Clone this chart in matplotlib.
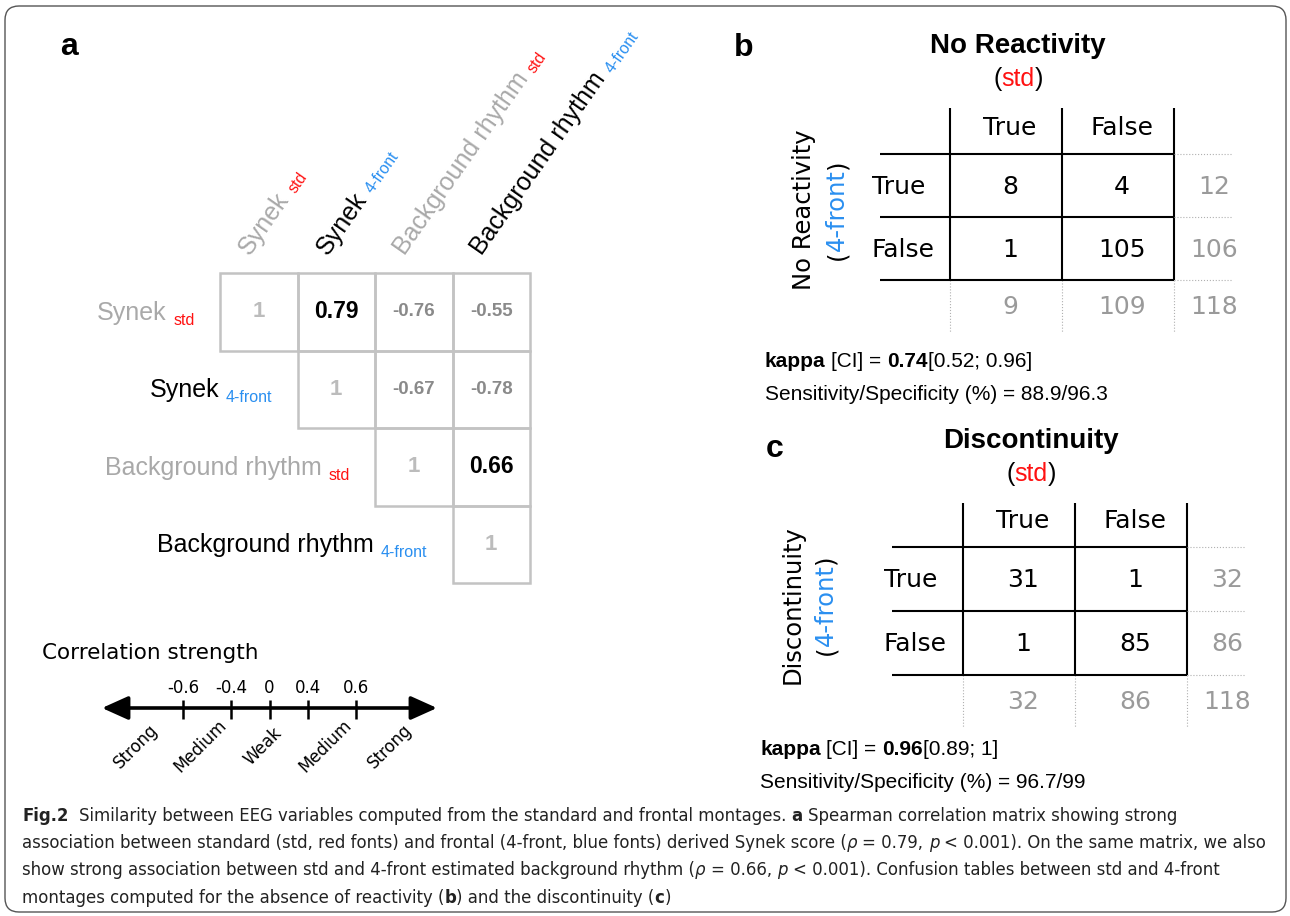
import numpy as np
import matplotlib
matplotlib.use("Agg")
import matplotlib.pyplot as plt
from matplotlib import font_manager
from matplotlib.patches import Rectangle, FancyBboxPatch

# ---- data ----
var_names = ["Synek", "Synek", "Background rhythm", "Background rhythm"]
montages = ["std", "4-front", "std", "4-front"]
# upper triangle of the Spearman matrix, row by row (starting at the diagonal)
corr_rows = [[1, 0.79, -0.76, -0.55],
             [1, -0.67, -0.78],
             [1, 0.66],
             [1]]

strength_ticks = [-0.6, -0.4, 0, 0.4, 0.6]
strength_labels = ["Strong", "Medium", "Weak", "Medium", "Strong"]

levels = ["True", "False"]
react_counts = [[8, 4], [1, 105]]
react_kappa, react_ci, react_sens_spec = 0.74, (0.52, 0.96), (88.9, 96.3)
disc_counts = [[31, 1], [1, 85]]
disc_kappa, disc_ci, disc_sens_spec = 0.96, (0.89, 1), (96.7, 99)

# ---- style ----
W, H = 1290, 916
LIB = "Liberation Sans"
DJV = "DejaVu Sans"
RED = "#ff1111"
BLUE = "#2a8ff0"
GRAYNAME = "#a9a9a9"
GRID = "#c3c3c3"
MARG = "#9a9a9a"

# caption font: something narrow if we have it
fonts = font_manager.fontManager.ttflist
names = {f.name for f in fonts}
if "Liberation Sans Narrow" in names:
    CAPKW = dict(family="Liberation Sans Narrow")
elif any(f.name == "DejaVu Sans" and str(f.stretch) in ("condensed", "semi-condensed") for f in fonts):
    CAPKW = dict(family="DejaVu Sans", stretch="condensed")
else:
    CAPKW = dict(family="Open Sans")

fig = plt.figure(figsize=(W / 100, H / 100), dpi=100)
ax = fig.add_axes([0, 0, 1, 1])
ax.set_xlim(0, W)
ax.set_ylim(H, 0)
ax.axis("off")
renderer = fig.canvas.get_renderer()


def text_width(s, **kw):
    t = ax.text(0, 0, "|" + s + "|", **kw)
    w1 = t.get_window_extent(renderer).width
    t.set_text("||")
    w2 = t.get_window_extent(renderer).width
    t.remove()
    return w1 - w2


def rich(x, y, parts, angle=0, ha="left", draw=True, **common):
    # parts: (text, props, drop) drawn one after the other on a baseline
    items = []
    for txt, kw, drop in parts:
        props = {**common, **kw}
        lead = len(txt) - len(txt.lstrip(" "))
        trail = len(txt) - len(txt.rstrip(" "))
        core = txt.strip(" ")
        sp = text_width(" ", **props) if (lead or trail) else 0
        items.append((core, props, drop, lead * sp, text_width(core, **props), trail * sp))
    total = sum(a + b + c for _, _, _, a, b, c in items)
    if not draw:
        return total
    c, s = np.cos(np.radians(angle)), np.sin(np.radians(angle))
    pos = -{"left": 0, "center": total / 2, "right": total}[ha]
    for core, props, drop, lead, w, trail in items:
        pos += lead
        ax.text(x + pos * c + drop * s, y - pos * s + drop * c, core,
                rotation=angle, rotation_mode="anchor", ha="left", va="baseline", **props)
        pos += w + trail
    return total


# outer frame
ax.add_patch(FancyBboxPatch((5, 6), 1281, 906, boxstyle="round,pad=0,rounding_size=14",
                            fc="none", ec="#555555", lw=1.0))

# ---- panel a: correlation matrix ----
ax.text(60, 55, "a", family=LIB, weight="bold", size=23)
cell = 77.5
mx0, my0 = 220, 273
for i, row in enumerate(corr_rows):
    for k, v in enumerate(row):
        j = i + k
        x, y = mx0 + j * cell, my0 + i * cell
        ax.add_patch(Rectangle((x, y), cell, cell, fill=False, ec=GRID, lw=1.8))
        if i == j:
            txt, kw = "1", dict(color="#bcbcbc", size=16, weight="bold")
        elif var_names[i] == var_names[j]:
            txt, kw = f"{v:.2f}", dict(color="black", size=16.5, weight="bold")
        else:
            txt, kw = f"{v:.2f}", dict(color="#8a8a8a", size=13.5, weight="bold")
        ax.text(x + cell / 2, y + cell / 2, txt, ha="center", va="center", family=LIB, **kw)

for i, (name, mont) in enumerate(zip(var_names, montages)):
    name_col = GRAYNAME if mont == "std" else "black"
    sub_col = RED if mont == "std" else BLUE
    parts = [(name + " ", dict(color=name_col, size=18), 0),
             (mont, dict(color=sub_col, size=11.5), 5)]
    rich(mx0 + i * cell - 25, my0 + i * cell + cell / 2 + 8, parts, ha="right", family=LIB)
    parts[1] = (mont, dict(color=sub_col, size=11.5), 2)
    rich(mx0 + i * cell + cell / 2 - 9, my0 - 17, parts, angle=55, family=LIB)

# ---- correlation strength scale ----
ax.text(42, 653, "Correlation strength", family=DJV, size=15.5, va="center")
fwd = lambda v: np.sign(v) * np.abs(v) ** 2
inv = lambda v: np.sign(v) * np.sqrt(np.abs(v))
lo, hi = -0.835, 0.835
sax = fig.add_axes([102 / W, (H - 775) / H, 335 / W, 100 / H])
sax.set_xscale("function", functions=(fwd, inv))
sax.set_xlim(lo, hi)
sax.set_ylim(775, 675)
sax.axis("off")
sax.annotate("", xy=(hi, 708), xytext=(lo, 708),
             arrowprops=dict(arrowstyle="<|-|>,head_length=0.8,head_width=0.36", lw=2.6,
                             color="black", shrinkA=0, shrinkB=0, mutation_scale=20))
sax.vlines(strength_ticks, 700, 719, color="black", lw=1.8)
for t in strength_ticks:
    sax.text(t, 697, f"{t:g}", ha="center", va="bottom", family=DJV, size=12)
edges = [lo] + [t for t in strength_ticks if t != 0] + [hi]
for k, lab in enumerate(strength_labels):
    mid = inv((fwd(edges[k]) + fwd(edges[k + 1])) / 2)
    sax.annotate(lab, (mid, 746), xytext=(-5, 0), textcoords="offset points",
                 rotation=45, ha="center", va="center", family=DJV, size=12)


# ---- panels b, c: confusion tables ----
def conf_table(letter, lxy, title, counts, x0, v0, top, hdr_h, row_h, ylab_x,
               kappa, ci, sens_spec, kxy):
    counts = np.array(counts)
    col_w = 112
    xs = [v0 + k * col_w for k in range(3)]
    hs = [top + hdr_h + k * row_h for k in range(3)]
    bottom = hs[-1]
    ax.text(lxy[0], lxy[1], letter, family=LIB, weight="bold", size=23)
    for xv in xs:
        ax.plot([xv, xv], [top, bottom], color="black", lw=1.5, solid_capstyle="butt")
        ax.plot([xv, xv], [bottom, bottom + 53], color="#b0b0b0", lw=0.8, ls=":")
    for yh in hs:
        ax.plot([x0, xs[-1]], [yh, yh], color="black", lw=1.5, solid_capstyle="butt")
        ax.plot([xs[-1], xs[-1] + 58], [yh, yh], color="#b0b0b0", lw=0.8, ls=":")

    tx = v0 + 68
    ax.text(tx, top - 55, title, ha="center", va="baseline", family=LIB, weight="bold", size=20)
    rich(tx, top - 22, [("(", dict(color="black"), 0), ("std", dict(color=RED), 0),
                        (")", dict(color="black"), 0)], ha="center", family=LIB, size=18)

    mid_y = (top + bottom) / 2 + 16
    rich(ylab_x, mid_y, [(title, {}, 0)], angle=90, ha="center", family=DJV, size=17.5)
    rich(ylab_x + 33, mid_y, [("(", {}, 0), ("4-front", dict(color=BLUE), 0), (")", {}, 0)],
         angle=90, ha="center", family=DJV, size=17.5)

    tkw = dict(family=DJV, size=18, va="baseline")
    for k, lev in enumerate(levels):
        cx = xs[k] + col_w / 2 + 4
        ax.text(cx, hs[0] - 19, lev, ha="center", **tkw)
        ax.text(x0 - 8, hs[k] + 40, lev, ha="left", **tkw)
        for m in range(2):
            ax.text(xs[m] + col_w / 2 + 4, hs[k] + 40, str(counts[k, m]), ha="center", **tkw)
        ax.text(xs[-1] + 40, hs[k] + 40, str(counts[k].sum()), ha="center", color=MARG, **tkw)
        ax.text(cx, bottom + 34, str(counts[:, k].sum()), ha="center", color=MARG, **tkw)
    ax.text(xs[-1] + 40, bottom + 34, str(counts.sum()), ha="center", color=MARG, **tkw)

    rich(kxy[0], kxy[1], [("kappa", dict(weight="bold"), 0), (" [CI] = ", {}, 0),
                          (f"{kappa:g}", dict(weight="bold"), 0),
                          (f"[{ci[0]:g}; {ci[1]:g}]", {}, 0)], family=LIB, size=15)
    ax.text(kxy[0], kxy[1] + 33,
            f"Sensitivity/Specificity (%) = {sens_spec[0]:g}/{sens_spec[1]:g}",
            family=LIB, size=15, va="baseline")


conf_table("b", (734, 56), "No Reactivity", react_counts, 880, 950, 108, 46, 63, 811,
           react_kappa, react_ci, react_sens_spec, (765, 367))
conf_table("c", (766, 457), "Discontinuity", disc_counts, 892, 963, 503, 44, 64, 800,
           disc_kappa, disc_ci, disc_sens_spec, (760, 755))

# ---- caption ----
B, R, I = dict(weight="bold"), {}, dict(style="italic")
caption = [
    [("Fig.2", B, 0), ("  Similarity between EEG variables computed from the standard and frontal montages. ", R, 0),
     ("a", B, 0), (" Spearman correlation matrix showing strong", R, 0)],
    [("association between standard (std, red fonts) and frontal (4-front, blue fonts) derived Synek score (", R, 0),
     ("ρ", I, 0), (" = 0.79, ", R, 0), ("p", I, 0), (" < 0.001). On the same matrix, we also", R, 0)],
    [("show strong association between std and 4-front estimated background rhythm (", R, 0),
     ("ρ", I, 0), (" = 0.66, ", R, 0), ("p", I, 0), (" < 0.001). Confusion tables between std and 4-front", R, 0)],
    [("montages computed for the absence of reactivity (", R, 0), ("b", B, 0),
     (") and the discontinuity (", R, 0), ("c", B, 0), (")", R, 0)],
]
w10 = rich(0, 0, caption[1], draw=False, size=10, **CAPKW)
cap_size = 10 * 1243 / w10
for k, line in enumerate(caption):
    rich(22, 821 + k * 27.2, line, size=cap_size, color="#222222", **CAPKW)

fig.savefig("out.png", dpi=100)
